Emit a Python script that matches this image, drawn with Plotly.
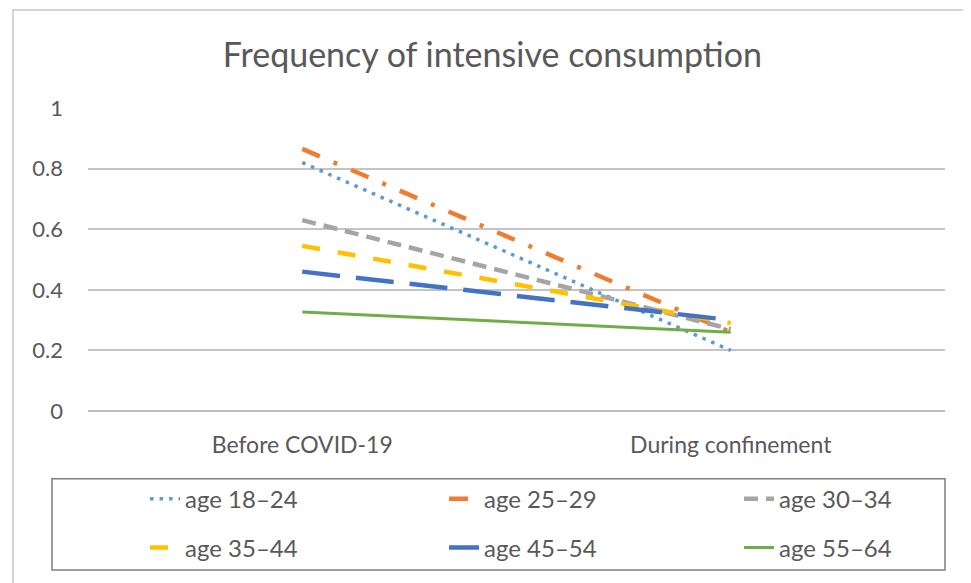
import plotly.graph_objects as go

periods = ["Before COVID-19", "During confinement"]
age_groups = ["age 18–24", "age 25–29", "age 30–34", "age 35–44", "age 45–54", "age 55–64"]
values = {
    "age 18–24": [0.82, 0.20],
    "age 25–29": [0.865, 0.26],
    "age 30–34": [0.63, 0.27],
    "age 35–44": [0.545, 0.29],
    "age 45–54": [0.46, 0.30],
    "age 55–64": [0.327, 0.26],
}
y_ticks = [0, 0.2, 0.4, 0.6, 0.8, 1]
y_ticktext = ["0", "0.2", "0.4", "0.6", "0.8", "1"]

styles = {
    "age 18–24": dict(color="#5B9BD5", width=3.5, dash="3.5px,6px"),
    "age 25–29": dict(color="#ED7D31", width=4.5, dash="19px,15px,4px,15px"),
    "age 30–34": dict(color="#A5A5A5", width=4.5, dash="14px,8px"),
    "age 35–44": dict(color="#FFC000", width=4.5, dash="18px,18px"),
    "age 45–54": dict(color="#4472C4", width=4.5, dash="38px,16px"),
    "age 55–64": dict(color="#70AD47", width=3, dash="solid"),
}

txt = "#595959"
font = "Lato"

# one legend per entry so the 3x2 grid can be placed freely
leg_x = [0.1423, 0.4528, 0.7591]
leg_y = [0.146, 0.0609]
legend_names = ["legend"] + ["legend%d" % k for k in range(2, 7)]

fig = go.Figure()
for i, g in enumerate(age_groups):
    fig.add_trace(go.Scatter(
        x=periods, y=values[g], name=g, mode="lines",
        line=styles[g], legend=legend_names[i], showlegend=True,
    ))

legends = {}
for i, name in enumerate(legend_names):
    legends[name] = dict(
        orientation="h", xref="container", yref="container",
        x=leg_x[i % 3], y=leg_y[i // 3], xanchor="left", yanchor="middle",
        bgcolor="rgba(0,0,0,0)", borderwidth=0, visible=True,
        font=dict(family=font, size=24, color=txt),
    )

# page body adds an 8px offset, so the figure is 8px smaller than the window
fig.update_layout(
    width=963, height=575,
    showlegend=True,
    margin=dict(l=80, r=26, t=100, b=172),
    paper_bgcolor="white", plot_bgcolor="white",
    title=dict(text="Frequency of intensive consumption", x=0.503, xanchor="center",
               xref="container", y=1 - 47 / 575, yanchor="middle",
               font=dict(family=font, size=34, color=txt)),
    xaxis=dict(range=[-0.5, 1.5], showgrid=False, zeroline=False,
               tickfont=dict(family=font, size=23, color=txt), ticks="",
               ticklabelstandoff=18, automargin=False),
    yaxis=dict(range=[0, 1], tickvals=y_ticks, ticktext=y_ticktext,
               gridcolor="#C4C4C4", gridwidth=1.6, zeroline=True,
               zerolinecolor="#BDBDBD", zerolinewidth=1.8,
               tickfont=dict(family=font, size=22, color=txt),
               ticklabelstandoff=24, automargin=False),
    shapes=[
        dict(type="rect", xref="paper", yref="paper", x0=-0.0875, x1=1.2,
             y0=-0.8, y1=1.3234, line=dict(color="#C8C8C8", width=1.5)),
        dict(type="rect", xref="paper", yref="paper", x0=-0.042, x1=1.0,
             y0=-0.525, y1=-0.224, line=dict(color="#7F7F7F", width=1.5)),
    ],
    **legends,
)

fig.write_html("out.html")
